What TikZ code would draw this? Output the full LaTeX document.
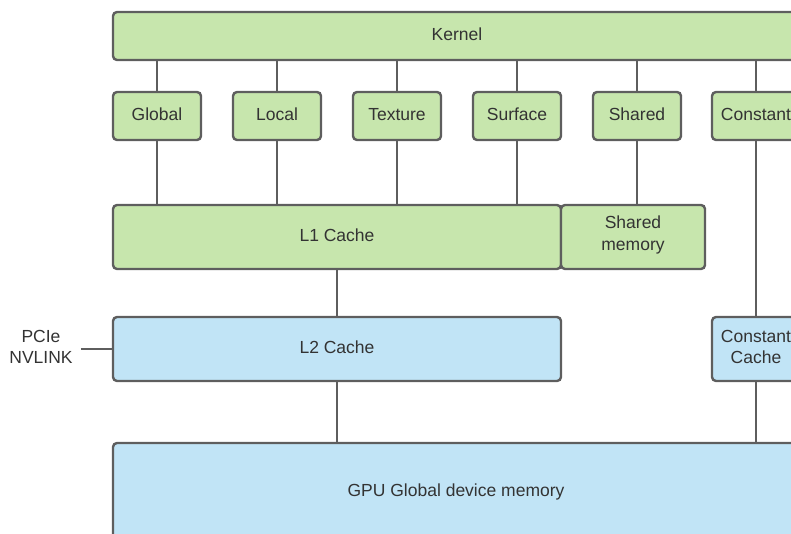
\documentclass[tikz,border=0pt]{standalone}
\usepackage{fontspec}
\setmainfont{Liberation Sans}
\usetikzlibrary{positioning}

\definecolor{l1green}{HTML}{C7E6AD}
\definecolor{l2blue}{HTML}{C1E4F6}
\definecolor{edgegray}{HTML}{5E5E5E}
\definecolor{textgray}{HTML}{333333}

\begin{document}
\begin{tikzpicture}[
        x=1pt, y=1pt,
        box/.style={
            rectangle,
            draw=edgegray,
            line width=2.4pt,
            rounded corners=4pt,
            align=center,
            outer sep=0pt,
            text=textgray,
            font=\fontsize{17.5}{21.5}\selectfont
        },
        oneline/.style={text height=13pt, text depth=4pt},
        greenbox/.style={box, fill=l1green},
        bluebox/.style={box, fill=l2blue},
        space/.style={greenbox, oneline, minimum width=88pt, minimum height=48pt},
        link/.style={
            draw=edgegray,
            line width=1.3pt
        }
    ]

    \useasboundingbox (0,0) rectangle (791,-534);
    \clip (0,0) rectangle (791,-534);

    % Kernel
    \node[greenbox, oneline, anchor=north west, minimum width=688pt, minimum height=48pt] (kernel) at (113,-12) {Kernel};

    % Memory spaces seen by the kernel
    \foreach \name/\txt/\x in {global/Global/157, local/Local/277, texture/Texture/397, surface/Surface/517, shared/Shared/637, constant/Constant/756}
        \node[space] (\name) at (\x,-116) {\txt};

    % On-chip memory
    \node[greenbox, oneline, anchor=north west, minimum width=448pt, minimum height=64pt] (l1) at (113,-205) {L1 Cache};
    \node[greenbox, text depth=7.7pt, right=0pt of l1, minimum width=144pt, minimum height=64pt] (sharedmem) {Shared\\memory};

    % Caches
    \node[bluebox, oneline, below=48pt of l1, minimum width=448pt, minimum height=64pt] (l2) {L2 Cache};
    \node[bluebox, text depth=4pt, minimum width=88pt, minimum height=64pt] (constcache) at (constant |- l2) {Constant\\Cache};

    % Device memory
    \node[bluebox, oneline, below=62pt of l2.south west, anchor=north west, minimum width=686pt, minimum height=98pt] (gpu) {GPU Global device memory};

    % Host link
    \node[align=center, text=textgray, inner sep=8pt, font=\fontsize{17.5}{21.5}\selectfont] (pcie) at (41,-347) {PCIe\\NVLINK};

    % Connections
    \foreach \name in {global, local, texture, surface, shared, constant}
        \draw[link] (kernel.south -| \name) -- (\name);
    \foreach \name in {global, local, texture, surface}
        \draw[link] (\name) -- (l1.north -| \name);
    \draw[link] (shared) -- (sharedmem.north -| shared);
    \draw[link] (constant) -- (constcache);
    \draw[link] (l1) -- (l2);
    \draw[link] (l2.south) -- (gpu.north -| l2.south);
    \draw[link] (constcache) -- (gpu.north -| constcache);
    \draw[link] (pcie.east |- l2.west) -- (l2.west);

\end{tikzpicture}
\end{document}
